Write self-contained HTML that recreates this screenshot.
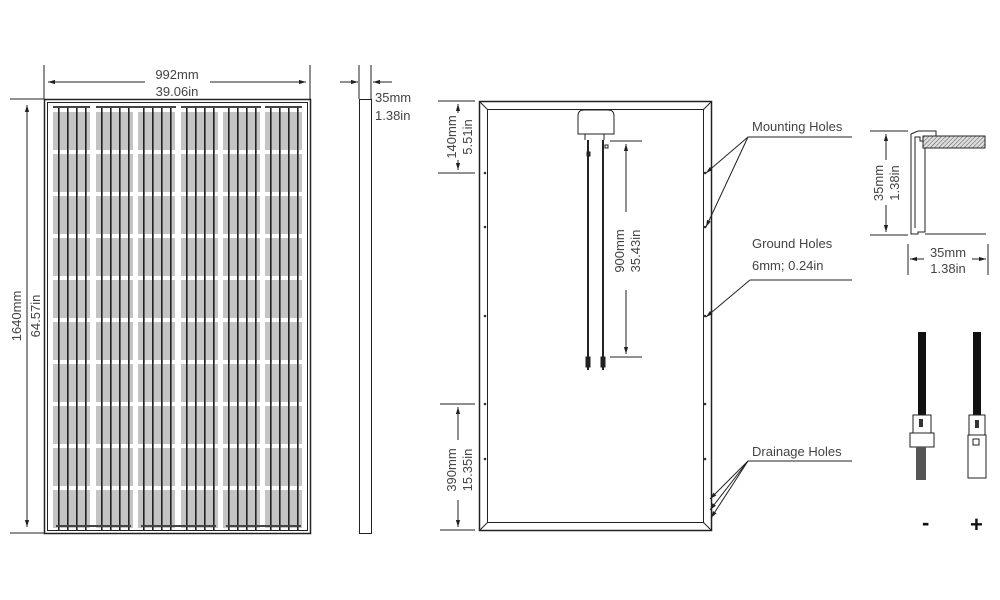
<!DOCTYPE html>
<html><head><meta charset="utf-8"><style>
html,body{margin:0;padding:0;background:#fff;width:1000px;height:600px;overflow:hidden}
svg{display:block}
text{font-family:"Liberation Sans",sans-serif;fill:#444}
</style></head><body>
<svg id="s" width="1000" height="600" viewBox="0 0 1000 600" xmlns="http://www.w3.org/2000/svg">
<defs>
<marker id="a" viewBox="0 0 10 10" refX="10" refY="5" markerWidth="7" markerHeight="7" orient="auto-start-reverse"><path d="M0,2 L10,5 L0,8z" fill="#222"/></marker>
<pattern id="h" width="3" height="3" patternUnits="userSpaceOnUse" patternTransform="rotate(45)"><rect width="3" height="3" fill="#ddd"/><line x1="0" y1="0" x2="0" y2="3" stroke="#555" stroke-width="1"/></pattern>
</defs>
<g id="cells"></g>
<g fill="none" stroke="#222" stroke-width="1">
<rect x="44.5" y="99.5" width="266" height="434" stroke-width="1.5"/>
<rect x="47.5" y="102.5" width="260" height="428"/>
<line x1="44" y1="99" x2="10" y2="99"/><line x1="44" y1="533" x2="10" y2="533"/>
<line x1="27" y1="105" x2="27" y2="527" marker-start="url(#a)" marker-end="url(#a)"/>
<line x1="44" y1="65" x2="44" y2="99"/><line x1="310" y1="65" x2="310" y2="99"/>
<line x1="48" y1="82" x2="145" y2="82" marker-start="url(#a)"/><line x1="210" y1="82" x2="306" y2="82" marker-end="url(#a)"/>
<rect x="359.5" y="99.5" width="12" height="434"/>
<line x1="359" y1="65" x2="359" y2="99"/><line x1="371" y1="65" x2="371" y2="99"/>
<line x1="340" y1="82" x2="358" y2="82" marker-end="url(#a)"/><line x1="392" y1="82" x2="373" y2="82" marker-end="url(#a)"/>
<rect x="479.5" y="101.5" width="232" height="429" stroke-width="1.5"/>
<rect x="487.5" y="109.5" width="216" height="413"/>
<line x1="480" y1="102" x2="488" y2="110"/><line x1="711" y1="102" x2="703" y2="110"/>
<line x1="480" y1="530" x2="488" y2="522"/><line x1="711" y1="530" x2="703" y2="522"/>
<line x1="438" y1="101" x2="475" y2="101"/><line x1="438" y1="173" x2="475" y2="173"/>
<line x1="458" y1="104" x2="458" y2="113" marker-start="url(#a)"/>
<line x1="458" y1="160" x2="458" y2="170" marker-end="url(#a)"/>
<line x1="440" y1="404" x2="475" y2="404"/><line x1="440" y1="530" x2="475" y2="530"/>
<line x1="458" y1="407" x2="458" y2="440" marker-start="url(#a)"/><line x1="458" y1="500" x2="458" y2="527" marker-end="url(#a)"/>
<line x1="610" y1="141" x2="642" y2="141"/><line x1="610" y1="357" x2="642" y2="357"/>
<line x1="626" y1="144" x2="626" y2="212" marker-start="url(#a)"/><line x1="626" y1="290" x2="626" y2="354" marker-end="url(#a)"/>
<path d="M578,116 Q578,110 584,110 L608,110 Q614,110 614,116 L614,134 L578,134Z" fill="#fff"/>
<line x1="585" y1="134" x2="585" y2="140"/><line x1="604" y1="134" x2="604" y2="140"/>
<line x1="588" y1="140" x2="588" y2="370" stroke-width="2"/><line x1="603" y1="140" x2="603" y2="370" stroke-width="2"/>
<rect x="587" y="152" width="3" height="4" fill="#222"/><rect x="605" y="145" width="3" height="3"/>
<rect x="586" y="357" width="4" height="10" fill="#222"/><rect x="601" y="357" width="4" height="10" fill="#222"/>
<line x1="748" y1="137" x2="852" y2="137"/>
<line x1="748" y1="137" x2="706" y2="173" marker-end="url(#a)"/>
<line x1="748" y1="137" x2="706" y2="227" marker-end="url(#a)"/>
<line x1="750" y1="280" x2="852" y2="280"/>
<line x1="750" y1="280" x2="706" y2="317" marker-end="url(#a)"/>
<line x1="748" y1="461" x2="852" y2="461"/>
<line x1="748" y1="461" x2="710" y2="499" marker-end="url(#a)"/>
<line x1="748" y1="461" x2="710" y2="510" marker-end="url(#a)"/>
<line x1="748" y1="461" x2="711" y2="518" marker-end="url(#a)"/>
<path d="M911,134 L911,234 L918,234 L918,232 L925,232 L925,136 L936,136 L936,141 L920,141 L920,137 L915,137 L915,228" />
<path d="M911,134 L918,131 L936,131 L936,136"/>
<line x1="925" y1="234" x2="986" y2="234"/>
<rect x="923" y="136" width="62" height="12" fill="url(#h)"/>
<line x1="870" y1="131" x2="908" y2="131"/><line x1="870" y1="235" x2="908" y2="235"/>
<line x1="886" y1="134" x2="886" y2="160" marker-start="url(#a)"/><line x1="886" y1="205" x2="886" y2="232" marker-end="url(#a)"/>
<line x1="908" y1="244" x2="908" y2="275"/><line x1="988" y1="244" x2="988" y2="275"/>
<line x1="924" y1="259" x2="910" y2="259" marker-end="url(#a)"/><line x1="972" y1="259" x2="986" y2="259" marker-end="url(#a)"/>
</g>
<g fill="#333">
<circle cx="485" cy="173" r="1.3"/><circle cx="485" cy="227" r="1.3"/><circle cx="485" cy="316" r="1.3"/><circle cx="485" cy="404" r="1.3"/><circle cx="485" cy="459" r="1.3"/>
<circle cx="705" cy="173" r="1.3"/><circle cx="705" cy="227" r="1.3"/><circle cx="705" cy="316" r="1.3"/><circle cx="705" cy="404" r="1.3"/><circle cx="705" cy="459" r="1.3"/>
</g>
<g>
<rect x="918" y="332" width="8" height="83" fill="#111"/>
<rect x="913" y="415" width="18" height="18" fill="#fff" stroke="#222"/>
<rect x="919" y="419" width="4" height="8" fill="#333"/>
<rect x="910" y="433" width="24" height="14" fill="#fff" stroke="#222"/>
<rect x="916" y="447" width="10" height="33" fill="#555"/>
<rect x="973" y="332" width="8" height="83" fill="#111"/>
<rect x="969" y="415" width="16" height="20" fill="#fff" stroke="#222"/>
<rect x="975" y="420" width="4" height="8" fill="#333"/>
<rect x="968" y="435" width="18" height="43" fill="#fff" stroke="#222"/>
<rect x="973" y="439" width="6" height="6" fill="#fff" stroke="#222"/>
</g>
<text x="922" y="530" font-size="22" font-weight="bold" style="fill:#111">-</text>
<text x="970" y="532" font-size="22" font-weight="bold" style="fill:#111">+</text>
<g font-size="13">
<text x="177" y="79" text-anchor="middle">992mm</text>
<text x="177" y="96" text-anchor="middle">39.06in</text>
<text x="375" y="102">35mm</text><text x="375" y="120">1.38in</text>
<text transform="translate(21,316) rotate(-90)" text-anchor="middle">1640mm</text>
<text transform="translate(40,316) rotate(-90)" text-anchor="middle">64.57in</text>
<text transform="translate(456,137) rotate(-90)" text-anchor="middle">140mm</text>
<text transform="translate(472,137) rotate(-90)" text-anchor="middle">5.51in</text>
<text transform="translate(456,470) rotate(-90)" text-anchor="middle">390mm</text>
<text transform="translate(472,470) rotate(-90)" text-anchor="middle">15.35in</text>
<text transform="translate(624,251) rotate(-90)" text-anchor="middle">900mm</text>
<text transform="translate(640,251) rotate(-90)" text-anchor="middle">35.43in</text>
<text x="752" y="131">Mounting Holes</text>
<text x="752" y="248">Ground Holes</text>
<text x="752" y="270">6mm; 0.24in</text>
<text x="752" y="456">Drainage Holes</text>
<text transform="translate(883,183) rotate(-90)" text-anchor="middle">35mm</text>
<text transform="translate(899,183) rotate(-90)" text-anchor="middle">1.38in</text>
<text x="948" y="257" text-anchor="middle">35mm</text>
<text x="948" y="273" text-anchor="middle">1.38in</text>
</g>
</svg>
<script>
var g=document.getElementById('cells'),h='';
var cols=[53,96,138,181,223,265];
for(var r=0;r<10;r++){var y=112+r*42;
 cols.forEach(function(x){h+='<rect x="'+x+'" y="'+y+'" width="37" height="38" fill="#c4c4c4"/>';
  for(var k=0;k<4;k++){var bx=x+5+k*9;h+='<rect x="'+bx+'" y="'+(y-4)+'" width="1.6" height="45" fill="#222"/>';}
 });}
h+='<rect x="53" y="106" width="37" height="2" fill="#444"/><rect x="96" y="106" width="80" height="2" fill="#444"/><rect x="181" y="106" width="80" height="2" fill="#444"/><rect x="265" y="106" width="37" height="2" fill="#444"/>';
h+='<rect x="56" y="525" width="75" height="2" fill="#444"/><rect x="141" y="525" width="75" height="2" fill="#444"/><rect x="226" y="525" width="75" height="2" fill="#444"/>';
g.innerHTML=h;
</script>
</body></html>
